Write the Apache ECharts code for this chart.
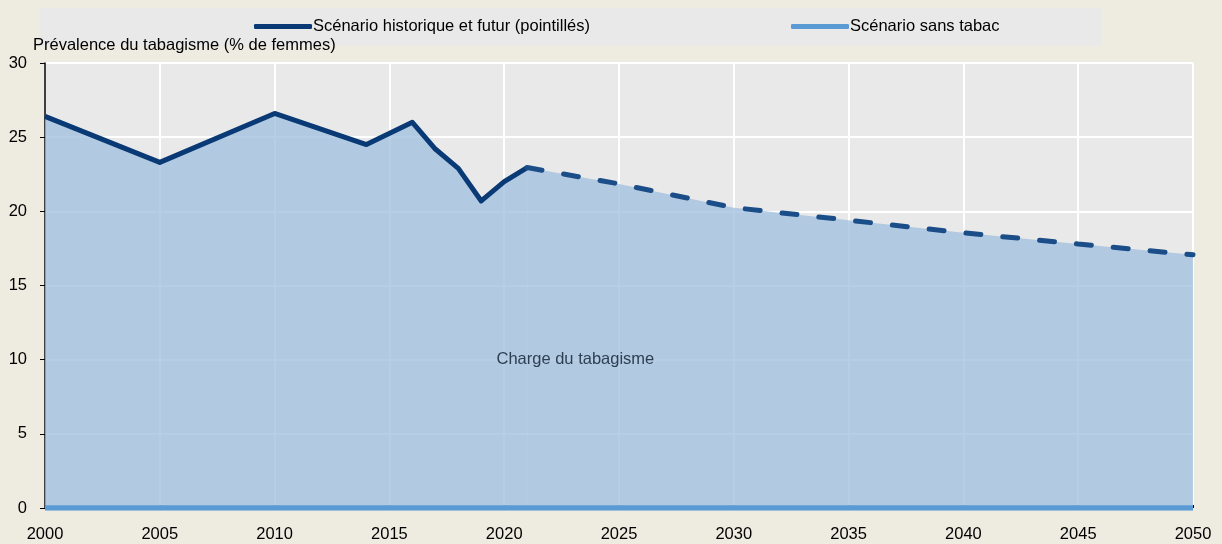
<!DOCTYPE html>
<html>
<head>
<meta charset="utf-8">
<script src="https://cdn.jsdelivr.net/npm/echarts@6/dist/echarts.min.js"></script>
<style>
  html, body { margin: 0; padding: 0; background: #EEECE1; }
  #main { width: 1222px; height: 544px; }
</style>
</head>
<body>
<div id="main"></div>
<script>
// données
var histYears = [2000, 2005, 2010, 2014, 2016, 2017, 2018, 2019, 2020, 2021];
var histValues = [26.4, 23.3, 26.6, 24.5, 26.0, 24.2, 22.9, 20.7, 22.0, 22.95];
var futYears = [2021, 2025, 2030, 2035, 2040, 2045, 2050];
var futValues = [22.95, 21.85, 20.25, 19.4, 18.55, 17.8, 17.07];
var noTobaccoYears = [2000, 2050];
var noTobaccoValues = [0, 0];
var legendNames = ['Scénario historique et futur (pointillés)', 'Scénario sans tabac'];
var yTitle = 'Prévalence du tabagisme (% de femmes)';
var areaLabel = 'Charge du tabagisme';

var FONT = "'Liberation Sans', Arial, sans-serif";
var FS = 16.5;

function pairs(xs, ys) {
	var out = [];
	for (var i = 0; i < xs.length; i++) out.push([xs[i], ys[i]]);
	return out;
}

window.onload = function () {
	var myChart = echarts.init(document.getElementById('main'));
	var areaFill = 'rgba(157,190,221,0.75)';

	var option = {
		backgroundColor: '#EEECE1',
		animation: false,
		textStyle: { fontFamily: FONT },
		title: {
			text: yTitle,
			left: 33,
			top: 37,
			padding: 0,
			textStyle: { fontFamily: FONT, fontSize: FS, fontWeight: 'normal', color: '#000' }
		},
		graphic: [{
			type: 'rect',
			z: 0,
			shape: { x: 40, y: 8, width: 1061, height: 38 },
			style: { fill: '#E9E9E9' }
		}],
		legend: [{
			data: [legendNames[0]],
			left: 254,
			top: 18,
			padding: 0,
			itemWidth: 58,
			itemHeight: 5,
			icon: 'roundRect',
			itemStyle: { color: '#0a3a75' },
			textStyle: { fontFamily: FONT, fontSize: FS, color: '#000', padding: [0, 0, 0, -4] }
		}, {
			data: [legendNames[1]],
			left: 791,
			top: 18,
			padding: 0,
			itemWidth: 58,
			itemHeight: 5,
			icon: 'roundRect',
			itemStyle: { color: '#5B9BD5' },
			textStyle: { fontFamily: FONT, fontSize: FS, color: '#000', padding: [0, 0, 0, -4] }
		}],
		grid: {
			left: 45,
			right: 29,
			top: 63,
			bottom: 36,
			show: true,
			backgroundColor: '#E9E9E9',
			borderWidth: 0
		},
		xAxis: {
			type: 'value',
			min: 2000,
			max: 2050,
			interval: 5,
			axisLine: { show: false },
			axisTick: { show: true, inside: true, length: 3, lineStyle: { color: '#000' } },
			axisLabel: {
				margin: 18, fontFamily: FONT, fontSize: FS, color: '#000',
				formatter: function (v) { return String(v); }
			},
			splitLine: { show: true, lineStyle: { color: '#fff', width: 2 } }
		},
		yAxis: {
			type: 'value',
			min: 0,
			max: 30,
			interval: 5,
			axisLine: { show: true, lineStyle: { color: '#000', width: 1.5 } },
			axisTick: { show: true, length: 5, lineStyle: { color: '#000' } },
			axisLabel: { margin: 18, fontFamily: FONT, fontSize: FS, color: '#000' },
			splitLine: { show: true, lineStyle: { color: '#fff', width: 2 } }
		},
		series: [{
			name: legendNames[0],
			type: 'line',
			data: pairs(histYears, histValues),
			showSymbol: false,
			symbol: 'none',
			z: 3,
			lineStyle: { color: '#0a3a75', width: 5, join: 'round' },
			itemStyle: { color: '#0a3a75' },
			areaStyle: { color: areaFill, opacity: 1, origin: 'start' },
			markPoint: {
				symbol: 'circle',
				symbolSize: 0,
				data: [{ coord: [2023.1, 10], value: areaLabel }],
				label: {
					show: true,
					position: 'inside',
					formatter: areaLabel,
					fontFamily: FONT,
					fontSize: FS,
					color: '#2f3f52'
				}
			}
		}, {
			name: legendNames[0],
			type: 'line',
			data: pairs(futYears, futValues),
			showSymbol: false,
			symbol: 'none',
			z: 3,
			lineStyle: { color: '#1b4d89', width: 5, type: [15, 22], cap: 'round' },
			itemStyle: { color: '#1b4d89' },
			areaStyle: { color: areaFill, opacity: 1, origin: 'start' }
		}, {
			name: legendNames[1],
			type: 'line',
			data: pairs(noTobaccoYears, noTobaccoValues),
			showSymbol: false,
			symbol: 'none',
			z: 4,
			lineStyle: { color: '#5B9BD5', width: 5.5 },
			itemStyle: { color: '#5B9BD5' }
		}]
	};
	myChart.setOption(option);
};
</script>
</body>
</html>
